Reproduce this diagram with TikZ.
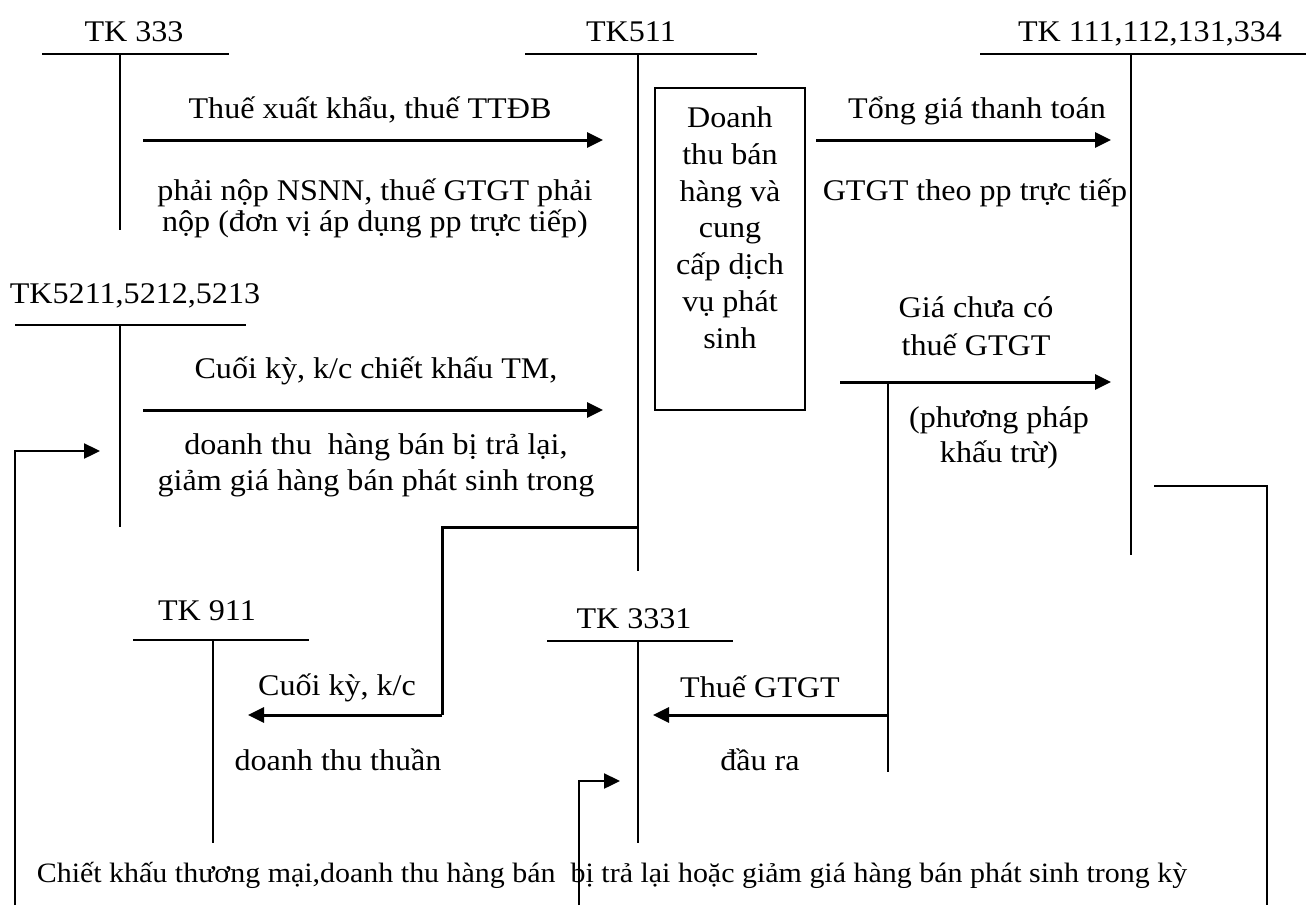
\documentclass[tikz,border=0pt]{standalone}
\usepackage{fontspec}
\setmainfont{Liberation Serif}[FakeStretch=1.07]
\usetikzlibrary{arrows.meta}

\begin{document}
\begin{tikzpicture}[x=1pt,y=-1pt,
	lbl/.style={font=\fontsize{30}{32}\selectfont,inner sep=0pt,anchor=base,align=center},
	tline/.style={line width=1.8pt},
	link/.style={line width=3pt},
	flow/.style={line width=3pt,-{Triangle[length=16pt,width=15pt]}}]
	\useasboundingbox (0,0) rectangle (1306,905);
	
	% accounts
	\node[lbl] (k333) at (134,41) {TK 333};
	\draw[tline] (42,54) -- (229,54) (120,54) -- (120,230);
	
	\node[lbl] (k511) at (631,41) {TK511};
	\draw[tline] (525,54) -- (757,54) (638,54) -- (638,571);
	
	\node[lbl] (k111) at (1150,41) {TK 111,112,131,334};
	\draw[tline] (980,54) -- (1306,54) (1131,54) -- (1131,555);
	
	\node[lbl] (k521) at (135,303) {TK5211,5212,5213};
	\draw[tline] (15,325) -- (246,325) (120,325) -- (120,527);
	
	\node[lbl] (k911) at (207,620) {TK 911};
	\draw[tline] (133,640) -- (309,640) (213,640) -- (213,843);
	
	\node[lbl] (k3331) at (634,628) {TK 3331};
	\draw[tline] (547,641) -- (733,641) (638,641) -- (638,843);
	
	% revenue box (base = last line)
	\node[draw,line width=2.4pt,minimum width=150pt,minimum height=322pt,inner sep=0pt] (box) at (730,249) {};
	\node[lbl,font=\fontsize{30}{36.7}\selectfont] (boxtxt) at (730,348) {Doanh\\thu bán\\hàng và\\cung\\cấp dịch\\vụ phát\\sinh};
	
	% arrow ends
	\coordinate (a1) at (143,140);
	\coordinate (b1) at (603,140);
	\coordinate (a2) at (816,140);
	\coordinate (b2) at (1111,140);
	\coordinate (a3) at (143,410);
	\coordinate (b3) at (603,410);
	\coordinate (a4) at (840,382);
	\coordinate (b4) at (1111,382);
	\coordinate (v4) at (888,382);
	\coordinate (e4) at (888,772);
	\coordinate (g4) at (888,715);
	\coordinate (b5) at (653,715);
	\coordinate (s511) at (638,527);
	\coordinate (c511) at (442,527);
	\coordinate (d511) at (442,715);
	\coordinate (b6) at (248,715);
	\coordinate (l1) at (15,905);
	\coordinate (l2) at (15,451);
	\coordinate (l3) at (100,451);
	\coordinate (m1) at (579,905);
	\coordinate (m2) at (579,781);
	\coordinate (m3) at (620,781);
	\coordinate (r1) at (1154,486);
	\coordinate (r2) at (1267,486);
	\coordinate (r3) at (1267,905);
	
	% flows
	\draw[flow] (a1) -- (b1);
	\node[lbl] (t1) at (370,118) {Thuế xuất khẩu, thuế TTĐB};
	\node[lbl,font=\fontsize{30}{31}\selectfont] (t1b) at (375,231) {phải nộp NSNN, thuế GTGT phải\\nộp (đơn vị áp dụng pp trực tiếp)};
	
	\draw[flow] (a2) -- (b2);
	\node[lbl] (t2) at (977,118) {Tổng giá thanh toán};
	\node[lbl] (t2b) at (975,200) {GTGT theo pp trực tiếp};
	
	\draw[flow] (a3) -- (b3);
	\node[lbl] (t3) at (376,378) {Cuối kỳ, k/c chiết khấu TM,};
	\node[lbl,font=\fontsize{30}{36}\selectfont] (t3b) at (376,490) {doanh thu\ \ hàng bán bị trả lại,\\giảm giá hàng bán phát sinh trong};
	
	\draw[flow] (a4) -- (b4);
	\draw[tline] (v4) -- (e4);
	\node[lbl,font=\fontsize{30}{38}\selectfont] (t4) at (976,355) {Giá chưa có\\thuế GTGT};
	\node[lbl,font=\fontsize{30}{35}\selectfont] (t4b) at (999,462) {(phương pháp\\khấu trừ)};
	
	\draw[flow] (g4) -- (b5);
	\node[lbl] (t5) at (760,697) {Thuế GTGT};
	\node[lbl] (t5b) at (760,770) {đầu ra};
	
	\draw[link] (s511) -- (c511) -- (d511);
	\draw[flow] (d511) -- (b6);
	\node[lbl] (t6) at (337,695) {Cuối kỳ, k/c};
	\node[lbl] (t6b) at (338,770) {doanh thu thuần};
	
	% loops
	\draw[line width=2.4pt,-{Triangle[length=16pt,width=15pt]}] (l1) -- (l2) -- (l3);
	\draw[line width=2.4pt,-{Triangle[length=16pt,width=15pt]}] (m1) -- (m2) -- (m3);
	\draw[line width=2.4pt] (r1) -- (r2) -- (r3);
	
	\node[lbl,font=\fontsize{28}{32}\selectfont] (bot) at (612,882) {Chiết khấu thương mại,doanh thu hàng bán\ \ bị trả lại hoặc giảm giá hàng bán phát sinh trong kỳ};
\end{tikzpicture}
\end{document}
